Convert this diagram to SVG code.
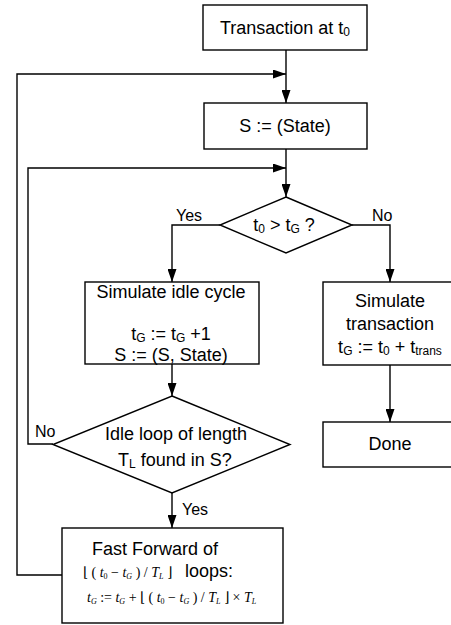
<svg xmlns="http://www.w3.org/2000/svg" width="451" height="625" viewBox="0 0 451 625">
<defs>
<marker id="arr" viewBox="0 0 13 9" refX="13" refY="4.5" markerWidth="13" markerHeight="9" markerUnits="userSpaceOnUse" orient="auto">
<path d="M0,0 L13,4.5 L0,9 Z" fill="#000"/>
</marker>
<style>
.box{fill:#fff;stroke:#000;stroke-width:1.4}
.ln{fill:none;stroke:#000;stroke-width:1.4;marker-end:url(#arr)}
.t{font-family:"Liberation Sans",Arial,sans-serif;font-size:18px;fill:#000}
.m{text-anchor:middle}
.lb{font-family:"Liberation Sans",Arial,sans-serif;font-size:16px;fill:#000}
.mt{font-family:"Liberation Serif","Times New Roman",serif;font-size:14px;fill:#000}
.i{font-style:italic}
</style>
</defs>
<rect width="451" height="625" fill="#fff"/>
<g id="connectors">
<path class="ln" d="M286,50 V103"/>
<path class="ln" d="M62,575 H17 V74 H286"/>
<path class="ln" d="M286,149 V197"/>
<path class="ln" d="M53,444 H28 V168 H286"/>
<path class="ln" d="M220,225 H172 V282"/>
<path class="ln" d="M352,225 H390 V282"/>
<path class="ln" d="M172,364 V396"/>
<path class="ln" d="M390,365 V422"/>
<path class="ln" d="M172,493 V528"/>
</g>
<g id="labels">
<text class="lb" x="176" y="221">Yes</text>
<text class="lb" x="372" y="221">No</text>
<text class="lb" x="35" y="437">No</text>
<text class="lb" x="182" y="515">Yes</text>
</g>
<g id="start">
<rect class="box" x="203" y="5" width="164" height="45"/>
<text class="t m" x="285" y="34">Transaction at t<tspan font-size="12" dy="2">0</tspan></text>
</g>
<g id="init">
<rect class="box" x="204" y="103" width="163" height="46"/>
<text class="t m" x="285" y="132">S := (State)</text>
</g>
<g id="decision1">
<polygon class="box" points="286,197 352,225 286,253 220,225"/>
<text class="t m" x="284" y="231">t<tspan font-size="12" dy="2">0</tspan><tspan dy="-2"> &gt; t</tspan><tspan font-size="12" dy="2">G</tspan><tspan dy="-2"> ?</tspan></text>
</g>
<g id="idle">
<rect class="box" x="85" y="282" width="174" height="82"/>
<text class="t m" x="171" y="298">Simulate idle cycle</text>
<text class="t m" x="171" y="340">t<tspan font-size="12" dy="2">G</tspan><tspan dy="-2"> := t</tspan><tspan font-size="12" dy="2">G</tspan><tspan dy="-2"> +1</tspan></text>
<text class="t m" x="171" y="361">S := (S, State)</text>
</g>
<g id="transaction">
<rect class="box" x="323" y="282" width="134" height="83"/>
<text class="t m" x="390" y="307">Simulate</text>
<text class="t m" x="390" y="330">transaction</text>
<text class="t m" x="390" y="353">t<tspan font-size="12" dy="2">G</tspan><tspan dy="-2"> := t</tspan><tspan font-size="12" dy="2">0</tspan><tspan dy="-2"> + t</tspan><tspan font-size="12" dy="2">trans</tspan></text>
</g>
<g id="done">
<rect class="box" x="323" y="422" width="134" height="45"/>
<text class="t m" x="390" y="450">Done</text>
</g>
<g id="decision2">
<polygon class="box" points="172,396 290,444.5 172,493 53,444.5"/>
<text class="t m" x="176" y="440">Idle loop of length</text>
<text class="t m" x="175" y="466">T<tspan font-size="12" dy="2">L</tspan><tspan dy="-2"> found in S?</tspan></text>
</g>
<g id="fastforward">
<rect class="box" x="62" y="528" width="221" height="95"/>
<text class="t" x="92" y="555">Fast Forward of</text>
<text class="mt" x="83" y="577">⌊ ( <tspan class="i">t</tspan><tspan font-size="8" dy="2">0</tspan><tspan dy="-2"> − </tspan><tspan class="i">t</tspan><tspan class="i" font-size="8" dy="2">G</tspan><tspan dy="-2"> ) / </tspan><tspan class="i">T</tspan><tspan class="i" font-size="8" dy="2">L</tspan><tspan dy="-2"> ⌋</tspan></text>
<text class="t" x="185" y="577">loops:</text>
<text class="mt" x="87" y="602"><tspan class="i">t</tspan><tspan class="i" font-size="8" dy="2">G</tspan><tspan dy="-2"> := </tspan><tspan class="i">t</tspan><tspan class="i" font-size="8" dy="2">G</tspan><tspan dy="-2"> + ⌊ ( </tspan><tspan class="i">t</tspan><tspan font-size="8" dy="2">0</tspan><tspan dy="-2"> − </tspan><tspan class="i">t</tspan><tspan class="i" font-size="8" dy="2">G</tspan><tspan dy="-2"> ) / </tspan><tspan class="i">T</tspan><tspan class="i" font-size="8" dy="2">L</tspan><tspan dy="-2"> ⌋ × </tspan><tspan class="i">T</tspan><tspan class="i" font-size="8" dy="2">L</tspan></text>
</g>
</svg>
